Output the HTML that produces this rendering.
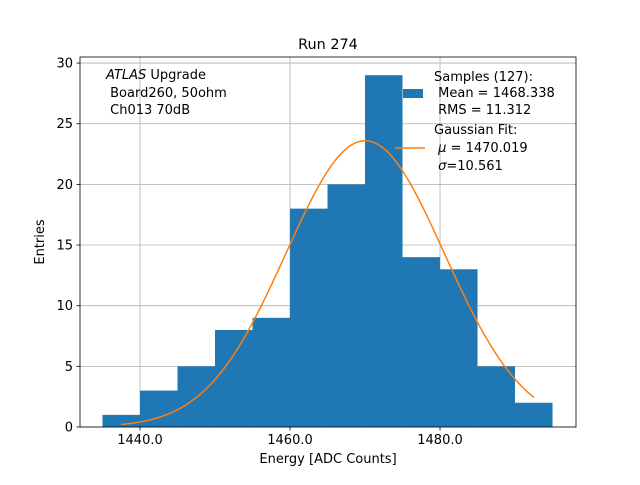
<!DOCTYPE html>
<html><head><meta charset="utf-8"><style>
body{margin:0;background:#fff}
svg text{font-family:"DejaVu Sans","Liberation Sans",sans-serif;fill:#000}
</style></head><body>
<svg id="c" width="640" height="480" xmlns="http://www.w3.org/2000/svg">
<rect width="640" height="480" fill="#fff"/>
<g id="grid"></g><g id="bars"></g><g id="curve"></g><g id="axes"></g>
<text x="328" y="49" font-size="14.4" text-anchor="middle">Run 274</text>
<text x="328" y="463" font-size="13" text-anchor="middle">Energy [ADC Counts]</text>
<text transform="translate(44,242) rotate(-90)" font-size="13" text-anchor="middle">Entries</text>
<g font-size="13">
<text x="106" y="79"><tspan font-style="italic">ATLAS</tspan> Upgrade</text>
<text x="106" y="97">&#160;Board260, 50ohm</text>
<text x="106" y="114">&#160;Ch013 70dB</text>
</g>
<g font-size="13">
<rect x="403" y="89" width="20" height="9" fill="#1f77b4"/>
<text x="434" y="81">Samples (127):</text>
<text x="434" y="97">&#160;Mean = 1468.338</text>
<text x="434" y="114">&#160;RMS = 11.312</text>
<line x1="395" y1="148" x2="425" y2="148" stroke="#ff7f0e" stroke-width="1.5"/>
<text x="434" y="134">Gaussian Fit:</text>
<text x="434" y="152">&#160;<tspan font-style="italic">μ</tspan> = 1470.019</text>
<text x="434" y="170">&#160;<tspan font-style="italic">σ</tspan>=10.561</text>
</g>
</svg>
<script>
const binEdges=[1435,1440,1445,1450,1455,1460,1465,1470,1475,1480,1485,1490,1495];
const counts=[1,3,5,8,9,18,20,29,14,13,5,2];
const xTicks=[1440,1460,1480];
const yTicks=[0,5,10,15,20,25,30];
const fitMu=1470.019, fitSigma=10.561, fitAmp=23.6, fitRange=[1437.5,1492.5];
const L=80,R=576,T=57,B=427;
const xMin=1432,xMax=1498.13,yMin=0,yMax=30.5;
const sx=v=>L+(v-xMin)/(xMax-xMin)*(R-L);
const sy=v=>B-(v-yMin)/(yMax-yMin)*(B-T);
const NS="http://www.w3.org/2000/svg";
function mk(t,p,a){const e=document.createElementNS(NS,t);for(const k in a)e.setAttribute(k,a[k]);p.appendChild(e);return e;}
const grid=document.getElementById('grid'),bars=document.getElementById('bars'),curve=document.getElementById('curve'),axes=document.getElementById('axes');
xTicks.forEach(v=>{const g=mk('line',grid,{x1:sx(v),x2:sx(v),y1:T,y2:B,stroke:'#b0b0b0','stroke-width':0.8});


const t=mk('line',axes,{x1:sx(v),x2:sx(v),y1:B,y2:B+3.5,stroke:'#000','stroke-width':0.8});


const l=mk('text',axes,{x:sx(v),y:B+17,'font-size':13,'text-anchor':'middle'});l.textContent=v.toFixed(1);

});
yTicks.forEach(v=>{const g=mk('line',grid,{x1:L,x2:R,y1:sy(v),y2:sy(v),stroke:'#b0b0b0','stroke-width':0.8});


const t=mk('line',axes,{x1:L-3.5,x2:L,y1:sy(v),y2:sy(v),stroke:'#000','stroke-width':0.8});


const l=mk('text',axes,{x:L-7,y:sy(v)+4.5,'font-size':13,'text-anchor':'end'});l.textContent=v;

});
counts.forEach((c,i)=>{const x0=sx(binEdges[i]),x1=sx(binEdges[i+1]);
const r=mk('rect',bars,{x:x0,y:sy(c),width:x1-x0,height:sy(0)-sy(c),fill:'#1f77b4'});

});
let d='';for(let i=0;i<=200;i++){const v=fitRange[0]+(fitRange[1]-fitRange[0])*i/200;
const y=fitAmp*Math.exp(-((v-fitMu)**2)/(2*fitSigma*fitSigma));d+=(i?'L':'M')+sx(v).toFixed(2)+' '+sy(y).toFixed(2);}
const p=mk('path',curve,{d:d,fill:'none',stroke:'#ff7f0e','stroke-width':1.5});


const f=mk('rect',axes,{x:L,y:T,width:R-L,height:B-T,fill:'none',stroke:'#000','stroke-width':0.8});


</script>
</body></html>
